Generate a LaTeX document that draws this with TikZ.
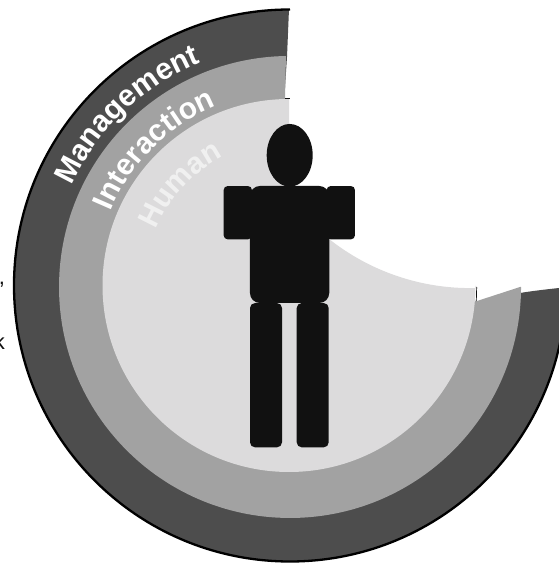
\documentclass[tikz,border=0pt]{standalone}
\usepackage{fontspec}
\setmainfont{Liberation Sans}
\usetikzlibrary{shapes.geometric,decorations.text}
\definecolor{ringdark}{HTML}{4D4D4D}
\definecolor{ringmid}{HTML}{A2A2A2}
\definecolor{ringlight}{HTML}{DCDBDC}
\definecolor{figblack}{HTML}{111111}
\definecolor{humantext}{HTML}{F0F0F0}

\begin{document}
\begin{tikzpicture}[
  x=1pt, y=1pt,
  limb/.style={fill=figblack, inner sep=0pt, outer sep=0pt, rounded corners=5pt},
  ringlabel/.style n args={3}{decorate, decoration={text along path, text align=left,
    text={|\fontsize{#2}{#2}\selectfont\bfseries\color{#3}|#1}}},
  cutfrag/.style={font=\fontsize{22}{22}\selectfont, text=figblack, inner sep=0pt, anchor=base}
]
  \useasboundingbox (0,0) rectangle (559,563);
  \clip (0,0) rectangle (559,563);
  \coordinate (c) at (290,277.5);

  % rings, outermost first
  \fill[ringdark] (290,553.5) arc[start angle=90, end angle=360, radius=276pt]
    -- (559,275) .. controls (545,273.5) and (532,272) .. (520,270)
    -- (478,255) -- (286,255) -- (280,400) -- (287,506) -- (289,554) -- cycle;
  \draw[black, line width=2.3pt] (290,553.5) arc[start angle=90, end angle=360, radius=276pt];
  \fill[ringmid] (286,507) arc[start angle=91, end angle=360, radius=231pt]
    -- (520,276) -- (477,262) -- (286,262) -- (285,464) -- cycle;
  \fill[ringlight] (289,464) arc[start angle=90, end angle=360, radius=186.5pt]
    -- (476,275) arc[start angle=271.5, end angle=217.1, radius=227pt] -- cycle;
  \draw[figblack, line width=0.7pt] (476.7,276) -- (476.3,262);
  \draw[figblack, line width=0.7pt] (285,464.2) -- (289.5,464.2);

  % figure
  \node[limb, minimum width=28.3pt, minimum height=53.3pt, rounded corners=4pt] (armL) at (237.8,350.3) {};
  \node[limb, minimum width=28.3pt, minimum height=53.3pt, rounded corners=4pt] (armR) at (340.8,350.3) {};
  \node[limb, minimum width=79.3pt, minimum height=117pt, rounded corners=10pt] (torso) at (289.6,318.5) {};
  \node[limb, minimum width=32pt, minimum height=144.3pt] (legL) at (266,187.8) {};
  \node[limb, minimum width=32pt, minimum height=144.3pt] (legR) at (312.7,187.8) {};
  \node[ellipse, fill=figblack, inner sep=0pt, outer sep=0pt, minimum width=46pt, minimum height=62.7pt] (head) at (289.7,407.7) {};

  % labels
  \path[ringlabel={Management}{30}{white}]
    ([shift={(155.5:240)}]c) arc[start angle=155.5, end angle=95, radius=240pt];
  \path[ringlabel={Interaction}{30}{white}]
    ([shift={(157.5:194)}]c) arc[start angle=157.5, end angle=95, radius=194pt];
  \path[ringlabel={Human}{30}{humantext}]
    ([shift={(157.5:145)}]c) arc[start angle=157.5, end angle=95, radius=145pt];

  % cropped text at the left edge
  \node[cutfrag] (comma) at (2,278) {,};
  \node[cutfrag] (kay) at (-0.5,213) {k};
\end{tikzpicture}
\end{document}
